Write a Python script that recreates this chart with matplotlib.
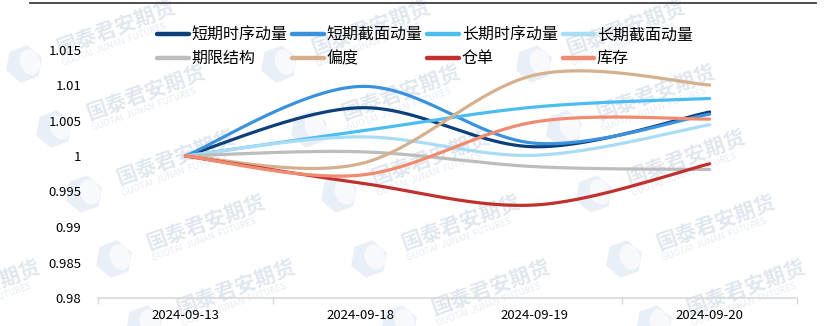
import numpy as np
import matplotlib
matplotlib.use("Agg")
import matplotlib.pyplot as plt
from matplotlib.lines import Line2D
from matplotlib.patches import RegularPolygon, Ellipse

plt.rcParams['font.family'] = ['Noto Sans CJK SC', 'DejaVu Sans']

dates = ['2024-09-13', '2024-09-18', '2024-09-19', '2024-09-20']

ts_short = [1.0, 1.0068, 1.0013, 1.0062]      # 短期时序动量
cs_short = [1.0, 1.0098, 1.0018, 1.0059]      # 短期截面动量
ts_long = [1.0, 1.0035, 1.0069, 1.0081]       # 长期时序动量
cs_long = [1.0, 1.0027, 1.0001, 1.0044]       # 长期截面动量
term = [1.0, 1.0006, 0.9985, 0.9981]          # 期限结构
skew = [1.0, 0.9989, 1.0114, 1.0100]          # 偏度
warrant = [1.0, 0.9962, 0.9931, 0.9989]       # 仓单
stock = [1.0, 0.9973, 1.0048, 1.0052]         # 库存

names = ['短期时序动量', '短期截面动量', '长期时序动量', '长期截面动量',
         '期限结构', '偏度', '仓单', '库存']
series = [ts_short, cs_short, ts_long, cs_long, term, skew, warrant, stock]
colors = ['#0d3f7a', '#3a92dc', '#4cbdf0', '#a9dcf5',
          '#bdbdbd', '#d5b08e', '#c0302e', '#f08b6f']

yticks = [0.98, 0.985, 0.99, 0.995, 1.0, 1.005, 1.01, 1.015]
ytick_labels = ['0.98', '0.985', '0.99', '0.995', '1', '1.005', '1.01', '1.015']


def smooth(ys, n=60):
    # excel-like smoothed line: bezier through the points
    pts = np.column_stack([np.arange(len(ys), dtype=float), np.array(ys, dtype=float)])
    P = np.vstack([pts[0], pts, pts[-1]])
    t = np.linspace(0, 1, n)[:, None]
    out = []
    for i in range(len(pts) - 1):
        p0, p1, p2, p3 = P[i], P[i + 1], P[i + 2], P[i + 3]
        c1 = p1 + (p2 - p0) / 6
        c2 = p2 - (p3 - p1) / 6
        seg = ((1 - t) ** 3) * p1 + 3 * ((1 - t) ** 2) * t * c1 + 3 * (1 - t) * t ** 2 * c2 + t ** 3 * p2
        out.append(seg if i == 0 else seg[1:])
    out = np.vstack(out)
    return out[:, 0], out[:, 1]


W, H = 831, 326
fig = plt.figure(figsize=(W / 100, H / 100), dpi=100)

# tiled watermark, pixel anchors from the top-left corner
ang = np.deg2rad(20)
for m in range(-2, 3):
    for i in range(-1, 4):
        px = 117 + 255 * i + 30 * m
        py = 180 + 65 * m
        if px < -90 or px > W - 40:
            continue
        fig.text(px / W, 1 - py / H, '国泰君安期货', fontsize=15, color='#e1e7ef',
                 rotation=20, rotation_mode='anchor', ha='left', va='center',
                 zorder=-5, fontweight='bold')
        # subtitle below the chinese text
        sx = px + 14 * np.sin(ang)
        sy = py + 14 * np.cos(ang)
        fig.text(sx / W, 1 - sy / H, 'GUOTAI  JUNAN  FUTURES', fontsize=6.5, color='#e6ebf2',
                 rotation=20, rotation_mode='anchor', ha='left', va='center', zorder=-5)
        # logo: pale hexagon with a white crescent
        lx = px - 33
        ly = py + 14
        fig.patches.append(RegularPolygon((lx / 100, (H - ly) / 100), 6, radius=0.19,
                                          orientation=np.pi / 6 + ang, facecolor='#e9eff7',
                                          edgecolor='none', transform=fig.dpi_scale_trans,
                                          zorder=-6))
        fig.patches.append(Ellipse(((lx + 6) / 100, (H - ly + 2) / 100), 0.2, 0.26,
                                   angle=20, facecolor='#f7f9fc', edgecolor='none',
                                   transform=fig.dpi_scale_trans, zorder=-6))

ax = fig.add_axes([98 / W, 28 / H, 699 / W, 284 / H], zorder=2)
ax.patch.set_alpha(0)

handles = []
for name, ys, c in zip(names, series, colors):
    xs, yy = smooth(ys)
    h, = ax.plot(xs, yy, color=c, lw=2.3, solid_capstyle='round', label=name)
    handles.append(h)

ax.set_xlim(-0.5, 3.5)
ax.set_ylim(0.98, 1.02)
ax.set_yticks(yticks)
ax.set_yticklabels(ytick_labels)
ax.set_xticks(range(len(dates)))
ax.set_xticklabels(dates)
ax.set_xticks(np.arange(-0.5, 3.6, 1.0), minor=True)
ax.tick_params(axis='x', which='major', length=0, pad=8, labelsize=9.5)
ax.tick_params(axis='x', which='minor', length=4, color='#d9d9d9', width=1)
ax.tick_params(axis='y', length=0, pad=12, labelsize=9.5)
for s in ['top', 'right', 'left']:
    ax.spines[s].set_visible(False)
ax.spines['bottom'].set_color('#d9d9d9')
ax.spines['bottom'].set_linewidth(1.2)

order = [0, 4, 1, 5, 2, 6, 3, 7]
leg = ax.legend([handles[i] for i in order], [names[i] for i in order], ncol=4,
                loc='upper left', bbox_to_anchor=(0.064, 1.005), frameon=False,
                fontsize=11.5, handlelength=2.0, handletextpad=0.15,
                columnspacing=0.3, labelspacing=0.4)
for lh in leg.get_lines():
    lh.set_linewidth(3.2)

fig.add_artist(Line2D([30 / W, 816 / W], [1 - 2.5 / H, 1 - 2.5 / H],
                      color='#404040', lw=1.3, transform=fig.transFigure))

fig.savefig('out.png', dpi=100)
